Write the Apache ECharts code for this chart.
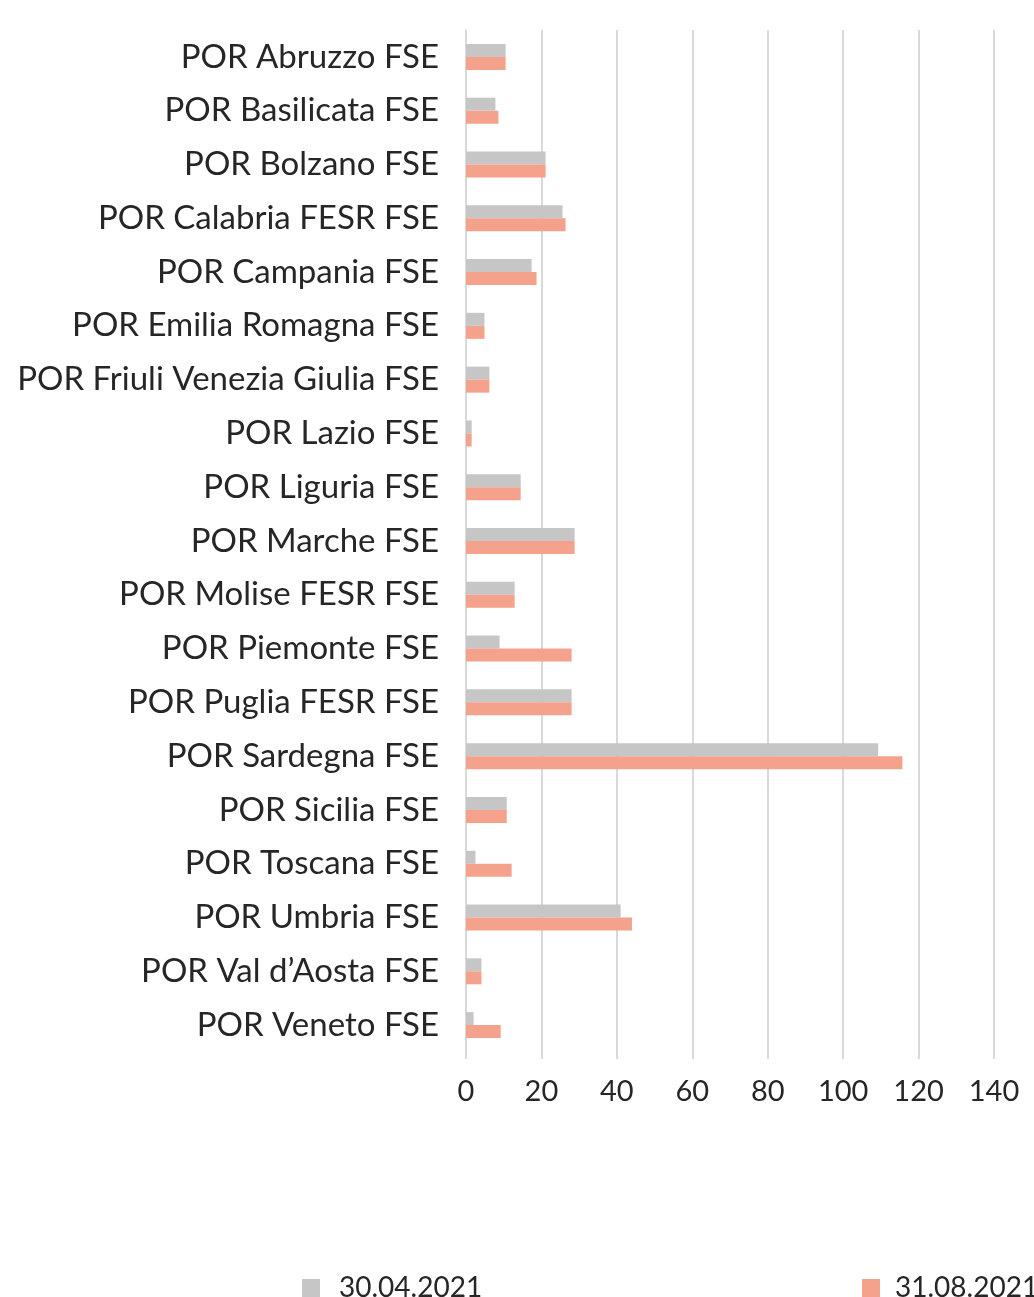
<!DOCTYPE html>
<html>
<head>
<meta charset="utf-8">
<script src="https://cdn.jsdelivr.net/npm/echarts@6/dist/echarts.min.js"></script>
<style>
  html, body { margin: 0; padding: 0; background: #fff; }
  #chart { width: 1034px; height: 1297px; }
</style>
</head>
<body>
<div id="chart"></div>
<script>
////////////////////
// data
////////////////////
var categories = [
    'POR Abruzzo FSE', 'POR Basilicata FSE', 'POR Bolzano FSE', 'POR Calabria FESR FSE',
    'POR Campania FSE', 'POR Emilia Romagna FSE', 'POR Friuli Venezia Giulia FSE',
    'POR Lazio FSE', 'POR Liguria FSE', 'POR Marche FSE', 'POR Molise FESR FSE',
    'POR Piemonte FSE', 'POR Puglia FESR FSE', 'POR Sardegna FSE', 'POR Sicilia FSE',
    'POR Toscana FSE', 'POR Umbria FSE', 'POR Val d\u2019Aosta FSE', 'POR Veneto FSE'
];
var series_names = ['30.04.2021', '31.08.2021'];
var values_april = [10.5, 7.8, 21.1, 25.6, 17.4, 4.9, 6.2, 1.5, 14.5, 28.8, 12.9, 8.9, 28.0, 109.3, 10.8, 2.5, 41.0, 4.1, 2.0];
var values_august = [10.5, 8.6, 21.1, 26.4, 18.7, 4.9, 6.2, 1.5, 14.5, 28.8, 12.9, 28.0, 28.0, 115.7, 10.8, 12.1, 44.0, 4.1, 9.2];
var x_ticks = [0, 20, 40, 60, 80, 100, 120, 140];

var font = 'Lato, "Open Sans", sans-serif';
var text_color = '#262626';

var mychart = echarts.init(document.getElementById('chart'));
var chart_option = {
    animation: false,
    color: ['#c6c6c6', '#f4a28b'],
    grid: {
        left: 466,
        width: 528,
        top: 30,
        height: 1022
    },
    legend: [
        {
            data: [series_names[0]],
            left: 302, top: 1274,
            padding: 0,
            itemWidth: 18, itemHeight: 18,
            icon: 'rect',
            textStyle: { fontFamily: font, fontSize: 28, color: text_color, padding: [0, 0, 0, 14] }
        },
        {
            data: [series_names[1]],
            left: 862, top: 1274,
            padding: 0,
            itemWidth: 18, itemHeight: 18,
            icon: 'rect',
            textStyle: { fontFamily: font, fontSize: 28, color: text_color, padding: [0, 0, 0, 10] }
        }
    ],
    xAxis: {
        type: 'value',
        min: x_ticks[0],
        max: x_ticks[x_ticks.length - 1],
        interval: 20,
        axisLine: { show: false },
        axisTick: { show: true, length: 7, lineStyle: { color: '#d9d9d9', width: 2 } },
        splitLine: { show: true, lineStyle: { color: '#d9d9d9', width: 2 } },
        axisLabel: { fontFamily: font, fontSize: 29, color: text_color, margin: 25 }
    },
    yAxis: {
        type: 'category',
        inverse: true,
        data: categories,
        axisLine: { show: true, lineStyle: { color: '#d9d9d9', width: 2 } },
        axisTick: { show: false },
        axisLabel: { fontFamily: font, fontSize: 33, color: text_color, margin: 27 }
    },
    series: [
        {
            name: series_names[0],
            type: 'bar',
            data: values_april,
            barWidth: 13,
            barGap: '0%'
        },
        {
            name: series_names[1],
            type: 'bar',
            data: values_august,
            barWidth: 13,
            barGap: '0%'
        }
    ]
};
mychart.setOption(chart_option);
</script>
</body>
</html>
